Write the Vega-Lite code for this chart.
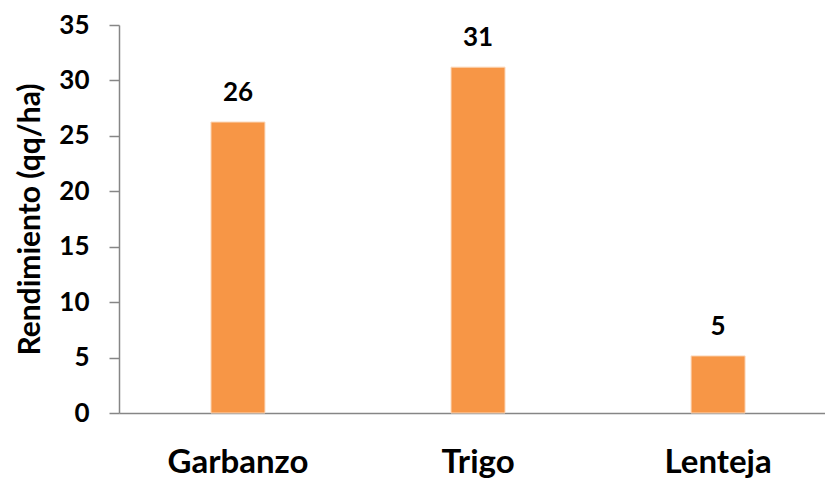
{
  "$schema": "https://vega.github.io/schema/vega-lite/v6.json",
  "autosize": {"type": "none"},
  "padding": {"left": 119, "top": 25, "right": 0, "bottom": 65},
  "width": 706,
  "height": 388,
  "background": "white",
  "config": {"view": {"stroke": null}, "font": "Lato"},
  "data": {"values": [
    {"cultivo": "Garbanzo", "rendimiento": 26.25},
    {"cultivo": "Trigo", "rendimiento": 31.2},
    {"cultivo": "Lenteja", "rendimiento": 5.15}
  ]},
  "encoding": {
    "x": {"field": "cultivo", "type": "nominal", "sort": null,
      "scale": {"paddingInner": 0.775, "paddingOuter": 0.358, "align": 0.535},
      "axis": {"title": null, "labelAngle": 0, "ticks": false, "domainColor": "#868686", "domainWidth": 1.5,
        "labelFont": "Lato", "labelFontWeight": "bold", "labelFontSize": 33, "labelColor": "black",
        "labelBaseline": "alphabetic", "labelPadding": 59}},
    "y": {"field": "rendimiento", "type": "quantitative",
      "scale": {"domain": [0, 35], "nice": false},
      "axis": {"title": "Rendimiento (qq/ha)", "values": [0, 5, 10, 15, 20, 25, 30, 35], "grid": false,
        "domainColor": "#868686", "domainWidth": 1.5, "tickColor": "#868686", "tickSize": 10, "tickWidth": 1.5,
        "labelFont": "Lato", "labelFontWeight": "bold", "labelFontSize": 26, "labelColor": "black", "labelPadding": 20,
        "titleFont": "Lato", "titleFontWeight": "bold", "titleFontSize": 30, "titleColor": "black",
        "titleX": -89, "titleY": 194, "titleAngle": -90, "titleAlign": "center", "titleBaseline": "middle"}}
  },
  "layer": [
    {"mark": {"type": "bar", "color": "#F79646", "stroke": "#fbd9bd", "strokeWidth": 1}},
    {"mark": {"type": "text", "font": "Lato", "fontWeight": "bold", "fontSize": 26, "color": "black", "baseline": "alphabetic", "dy": -21},
     "encoding": {"text": {"field": "rendimiento", "type": "quantitative", "format": ".0f"}}}
  ]
}
